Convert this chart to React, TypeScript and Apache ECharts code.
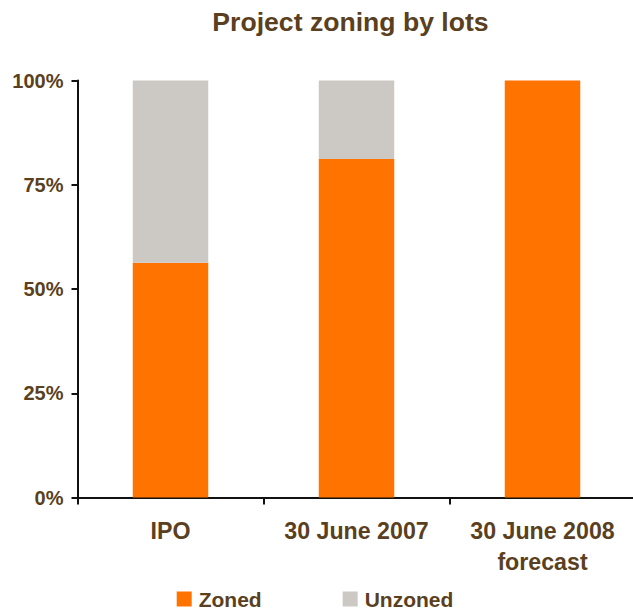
import React, { useEffect, useRef } from "react";
import * as echarts from "echarts";

const categories = ["IPO", "30 June 2007", "30 June 2008\nforecast"];
const zoned = [56.3, 81.2, 100];
const unzoned = [43.7, 18.8, 0];
const yTicks = [0, 25, 50, 75, 100];

const BROWN = "#5a3f20";
const ORANGE = "#ff7300";
const GRAY = "#ccc9c4";
const FONT = "'Liberation Sans', Arial, sans-serif";

export default function App() {
  const ref = useRef<HTMLDivElement>(null);
  useEffect(() => {
    if (!ref.current) return;
    const chart = echarts.init(ref.current, null, { renderer: "svg" });
    chart.setOption({
      animation: false,
      backgroundColor: "#ffffff",
      title: {
        text: "Project zoning by lots",
        left: 345.5,
        textAlign: "center",
        top: 3.5,
        textStyle: { color: BROWN, fontSize: 26.6, fontWeight: "bold", fontFamily: FONT },
      },
      legend: {
        left: 176.7,
        top: 588.5,
        itemWidth: 15,
        itemHeight: 15,
        itemGap: 81,
        icon: "rect",
        padding: 0,
        textStyle: {
          color: BROWN,
          fontSize: 21,
          lineHeight: 16,
          fontWeight: "bold",
          fontFamily: FONT,
          padding: [0, 0, 0, 2],
        },
        data: ["Zoned", "Unzoned"],
      },
      grid: {
        left: 77.5,
        top: 80.5,
        width: 558,
        height: 417,
        containLabel: false,
        outerBoundsMode: "none",
      },
      xAxis: {
        type: "category",
        data: categories,
        axisLine: { show: true, lineStyle: { color: "#111", width: 2 } },
        axisTick: { show: true, length: 7, lineStyle: { color: "#111", width: 2 } },
        axisLabel: {
          color: BROWN,
          fontSize: 23.2,
          fontWeight: "bold",
          fontFamily: FONT,
          lineHeight: 31,
          margin: 18,
          interval: 0,
        },
        splitLine: { show: false },
      },
      yAxis: {
        type: "value",
        min: yTicks[0],
        max: yTicks[yTicks.length - 1],
        interval: 25,
        axisLine: { show: true, lineStyle: { color: "#111", width: 2 } },
        axisTick: { show: true, length: 6, lineStyle: { color: "#111", width: 2 } },
        axisLabel: {
          color: BROWN,
          fontSize: 20,
          fontWeight: "bold",
          fontFamily: FONT,
          margin: 14,
          formatter: "{value}%",
        },
        splitLine: { show: false },
      },
      series: [
        {
          name: "Zoned",
          type: "bar",
          stack: "total",
          data: zoned,
          barWidth: 75.5,
          itemStyle: { color: ORANGE },
        },
        {
          name: "Unzoned",
          type: "bar",
          stack: "total",
          data: unzoned,
          barWidth: 75.5,
          itemStyle: { color: GRAY },
        },
      ],
    });
    return () => chart.dispose();
  }, []);
  return (
    <div
      ref={ref}
      style={{ position: "fixed", left: 0, top: 0, width: 633, height: 610, background: "#fff" }}
    />
  );
}
